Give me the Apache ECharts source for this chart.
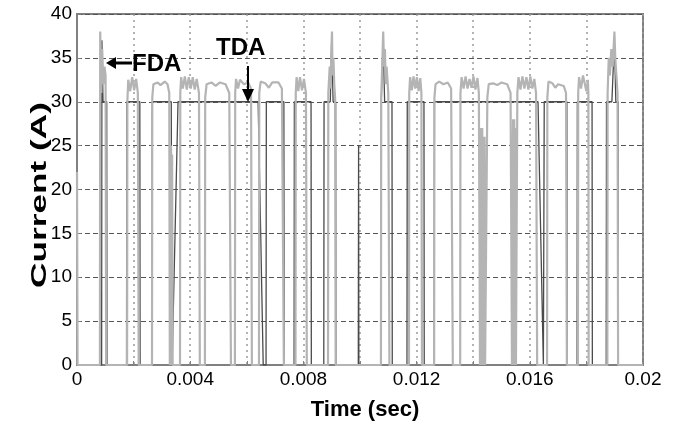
<!DOCTYPE html>
<html><head><meta charset="utf-8">
<script src="https://cdn.jsdelivr.net/npm/echarts@6/dist/echarts.min.js"></script>
<style>html,body{margin:0;padding:0;background:#fff}#c{width:675px;height:426px}</style>
</head><body><div id="c"></div>
<script>
// ---- Data ----
var xTicks = [0, 0.004, 0.008, 0.012, 0.016, 0.02];
var yTicks = [0, 5, 10, 15, 20, 25, 30, 35, 40];

// FDA current (light grey trace): [time, current]
var fdaCurrent = [
  [0,22],[0.00002,0],
  [0.00081,0],[0.00082,38],[0.00086,31],[0.00089,36],[0.00093,32],[0.00097,34],[0.00101,33],[0.00103,0],
  [0.00177,0],[0.00178,30],[0.00181,32.5],[0.00188,31.2],[0.00195,32.8],[0.00202,31.3],[0.00209,32.6],[0.00215,31],[0.00218,0],
  [0.00265,0],[0.00266,30.5],[0.00270,32],[0.00285,32.2],[0.00295,31.9],[0.00310,32.3],[0.00320,32],[0.00326,31],[0.00328,0],
  [0.00330,0],[0.00332,25],[0.00334,0],[0.00336,24],[0.00338,0],
  [0.00364,0],[0.00365,31],[0.00368,32.8],[0.00374,31.5],[0.00381,32.9],[0.00388,31.4],[0.00395,32.8],[0.00402,31.5],[0.00409,32.8],[0.00416,31.4],[0.00423,32.6],[0.00431,31],[0.00434,0],
  [0.00452,0],[0.00453,30.5],[0.00458,32],[0.00475,32.2],[0.00490,31.8],[0.00505,32.2],[0.00525,32],[0.00538,31],[0.00544,0],
  [0.00558,0],[0.00559,31],[0.00562,32.6],[0.00569,31.5],[0.00576,32.5],[0.00590,32],[0.00605,32.2],[0.00615,31.5],[0.00618,0],
  [0.00643,0],[0.00644,31],[0.00649,32.3],[0.00665,32.1],[0.00678,31.6],[0.00690,32.2],[0.00712,32.2],[0.00724,31.5],[0.00731,0],
  [0.00772,0],[0.00773,31],[0.00776,32.8],[0.00782,31.2],[0.00788,32.8],[0.00795,31.3],[0.00802,32.6],[0.00809,31],[0.00812,0],
  [0.00887,0],[0.00888,31],[0.00893,34],[0.00896,31.5],[0.00899,36],[0.00901,38],[0.00903,33],[0.00906,35],[0.00909,32],[0.00912,30.5],[0.00914,0],
  [0.01074,0],[0.01075,30.5],[0.01082,38],[0.01085,34],[0.01088,36],[0.01091,32],[0.01094,34],[0.01100,31],[0.01104,0],
  [0.01173,0],[0.01174,31],[0.01177,32.8],[0.01183,31.3],[0.01189,32.9],[0.01195,31.5],[0.01201,32.8],[0.01207,31.2],[0.01213,32.7],[0.01217,31],[0.01219,0],
  [0.01262,0],[0.01263,30.5],[0.01267,32],[0.01280,32.3],[0.01295,32],[0.01310,32.2],[0.01322,31.5],[0.01328,0],
  [0.01354,0],[0.01355,31],[0.01359,32.8],[0.01366,31.5],[0.01373,32.9],[0.01380,31.5],[0.01387,32.6],[0.01394,31.6],[0.01401,32.9],[0.01408,31.4],[0.01415,32.7],[0.01420,31],[0.01424,0],
  [0.01426,0],[0.01428,27],[0.01430,0],[0.01432,27],[0.01434,0],[0.01436,26],[0.01438,0],[0.01440,26],[0.01442,0],
  [0.01449,0],[0.01450,30.5],[0.01455,32],[0.01470,32.1],[0.01485,31.9],[0.01500,32.2],[0.01520,32],[0.01532,31],[0.01537,0],
  [0.01539,0],[0.01541,28],[0.01543,0],[0.01545,28],[0.01547,0],[0.01549,27],[0.01551,0],
  [0.01555,0],[0.01556,31],[0.01560,32.8],[0.01567,31.4],[0.01574,32.9],[0.01581,31.5],[0.01588,32.8],[0.01595,31.4],[0.01602,32.9],[0.01609,31.5],[0.01616,32.6],[0.01622,31],[0.01626,0],
  [0.01661,0],[0.01662,30.5],[0.01666,32.3],[0.01680,32.1],[0.01690,31.6],[0.01700,32],[0.01720,31.8],[0.01728,31],[0.01731,0],
  [0.01770,0],[0.01771,31],[0.01774,32.8],[0.01781,31.5],[0.01788,33],[0.01795,32.8],[0.01800,31.2],[0.01805,32.5],[0.01807,31],[0.01808,0],
  [0.01874,0],[0.01875,31],[0.01879,35],[0.01883,33],[0.01888,36],[0.01893,34],[0.01899,38],[0.01902,35],[0.01906,33],[0.01910,31],[0.01912,0],
  [0.02,0]
];

// TDA current (dark trace): [time, current]
var tdaCurrent = [
  [0,0],
  [0.00087,0],[0.00088,37],[0.00092,30],[0.00105,30],[0.00106,0],
  [0.00175,0],[0.00176,30],[0.00222,30],[0.00223,0],
  [0.00265,0],[0.00266,30],[0.00333,30],[0.00336,0],
  [0.00339,0],[0.00357,30],[0.00640,30],[0.00658,0],
  [0.00668,0],[0.00669,30],[0.00731,30],[0.00732,0],
  [0.00767,0],[0.00768,30],[0.00827,30],[0.00828,0],
  [0.00872,0],[0.00873,30],[0.00895,30],[0.00900,37],[0.00905,30],[0.00914,30],[0.00915,0],
  [0.00994,0],[0.00995,25],[0.00996,0],
  [0.01074,0],[0.01075,30],[0.01082,37],[0.01087,30],[0.01113,30],[0.01114,0],
  [0.01166,0],[0.01167,30],[0.01226,30],[0.01227,0],
  [0.01262,0],[0.01263,30],[0.01629,30],[0.01648,0],
  [0.01650,0],[0.01651,30],[0.01731,30],[0.01732,0],
  [0.01767,0],[0.01768,30],[0.01820,30],[0.01821,0],
  [0.01870,0],[0.01871,30],[0.01890,30],[0.01899,37],[0.01904,30],[0.01912,30],[0.01913,0],
  [0.02,0]
];

// ---- Chart ----
var FONT = '"Liberation Sans", Arial, sans-serif';
var chart = echarts.init(document.getElementById('c'), null, {renderer: 'canvas'});
chart.setOption({
  animation: false,
  backgroundColor: '#ffffff',
  grid: {left: 77, right: 32, top: 14, bottom: 51, show: true, borderColor: '#808080', borderWidth: 2, backgroundColor: 'transparent'},
  xAxis: {
    type: 'value', min: 0, max: 0.02, interval: 0.002,
    name: 'Time (sec)', nameLocation: 'middle', nameGap: 34,
    nameTextStyle: {fontFamily: FONT, fontWeight: 'bold', fontSize: 22, color: '#000', padding: [0, 0, 0, 10]},
    axisLine: {show: true, lineStyle: {color: '#808080', width: 2}},
    axisTick: {show: true, inside: true, length: 4, lineStyle: {color: '#808080'}},
    axisLabel: {fontFamily: FONT, fontSize: 19, color: '#000', margin: 5,
      formatter: function (v) {
        for (var i = 0; i < xTicks.length; i++) { if (Math.abs(v - xTicks[i]) < 1e-9) return String(xTicks[i]); }
        return '';
      }},
    splitLine: {show: true, lineStyle: {color: '#9a9a9a', width: 1.5, type: [2, 4]}}
  },
  yAxis: {
    type: 'value', min: 0, max: 40, interval: 5,
    axisLine: {show: true, lineStyle: {color: '#808080', width: 2}},
    axisTick: {show: true, inside: true, length: 4, lineStyle: {color: '#808080'}},
    axisLabel: {fontFamily: FONT, fontSize: 19, color: '#000', margin: 5,
      formatter: function (v) { return yTicks.indexOf(v) >= 0 ? String(v) : ''; }},
    splitLine: {show: true, lineStyle: {color: '#555', width: 1, type: [5, 3]}}
  },
  series: [
    {name: 'TDA', type: 'line', data: tdaCurrent, showSymbol: false, z: 3,
     lineStyle: {color: '#4a4a4a', width: 1.3}},
    {name: 'FDA', type: 'line', data: fdaCurrent, showSymbol: false, z: 4,
     lineStyle: {color: '#b4b4b4', width: 2.2}}
  ],
  graphic: [
    {type: 'text', z: 10, x: 40, y: 195, rotation: Math.PI / 2, scaleX: 1.6, scaleY: 1,
     style: {text: 'Current (A)', font: 'bold 22px ' + FONT, fill: '#000', align: 'center', verticalAlign: 'middle'}},
    {type: 'polyline', z: 10, shape: {points: [[114, 63], [132, 63]]}, style: {stroke: '#000', lineWidth: 3}},
    {type: 'polygon', z: 10, shape: {points: [[106, 63], [116, 57], [116, 69]]}, style: {fill: '#000'}},
    {type: 'text', z: 10, left: 132, top: 52, style: {text: 'FDA', font: 'bold 24px ' + FONT, fill: '#000'}},
    {type: 'text', z: 10, left: 216, top: 36, style: {text: 'TDA', font: 'bold 24px ' + FONT, fill: '#000'}},
    {type: 'polyline', z: 10, shape: {points: [[248, 66], [248, 92]]}, style: {stroke: '#000', lineWidth: 2}},
    {type: 'polygon', z: 10, shape: {points: [[248, 102], [242, 89], [254, 89]]}, style: {fill: '#000'}}
  ]
});
</script>
</body></html>
